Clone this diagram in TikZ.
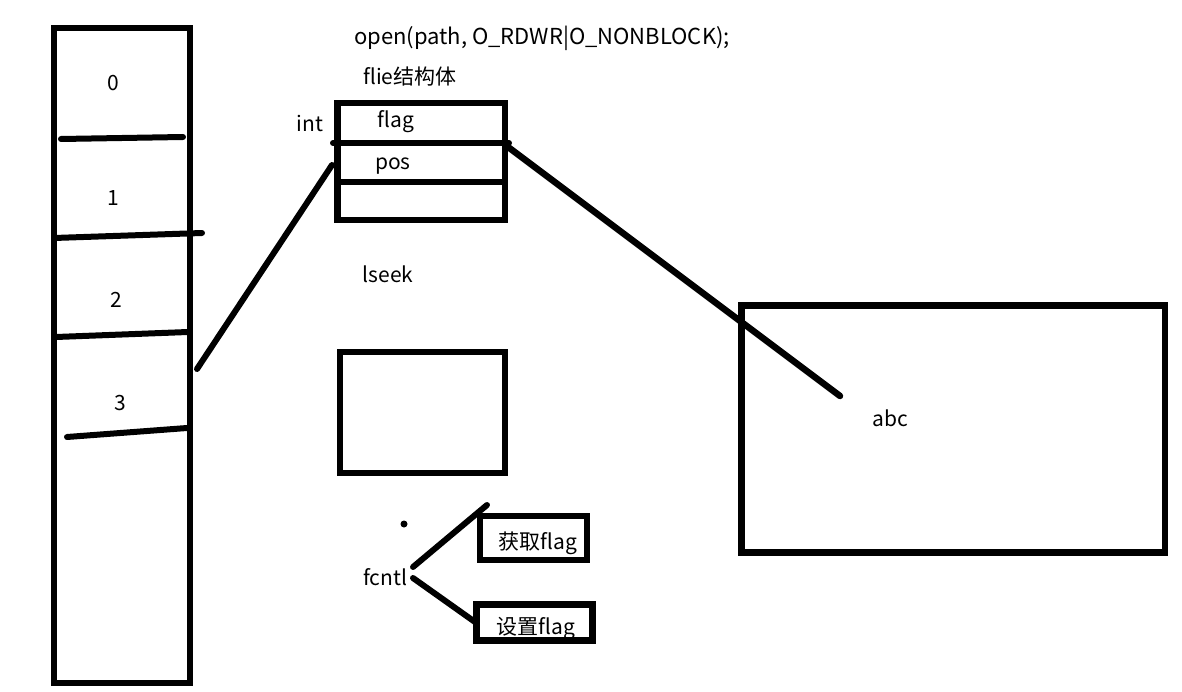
\documentclass[tikz,border=0pt]{standalone}
\usepackage{fontspec}
\setmainfont{Noto Sans CJK SC}
\usepackage{tikz}
\usetikzlibrary{positioning}
\tikzstyle{cell}=[rectangle, draw=black, line width=6.5pt, inner sep=0pt]
\tikzstyle{stroke}=[draw, line width=6pt, line cap=round]
\tikzstyle{lbl}=[inner sep=0pt, font=\fontsize{21}{25}\selectfont]

\begin{document}
\begin{tikzpicture}[x=1pt, y=-1pt]
\useasboundingbox (0,0) rectangle (1182,692);

% fd table
\node[cell, line width=6pt, minimum width=136.5pt, minimum height=655pt] (fdtab) at (121.75,355.5) {};
\draw[stroke] (61,139) -- (183,137);
\draw[stroke] (54,238) -- (202,233);
\draw[stroke] (56,337) -- (188,332);
\draw[stroke] (67,437) -- (187,428);
\foreach \i/\x/\y in {0/113/83, 1/113/198, 2/116/300, 3/120/403}
  \node[lbl] (fd\i) at (\x,\y) {\i};

% file struct
\node[lbl, font=\fontsize{22}{26}\selectfont] (opencall) at (542,38) {open(path, O\_RDWR|O\_NONBLOCK);};
\node[lbl] (structname) at (410,77) {flie结构体};
\node[cell, minimum width=167.5pt, minimum height=117pt] (filestruct) at (421.25,161.5) {};
\draw[stroke] (333,143) -- (509,143);
\draw[draw, line width=6.5pt] (338,182) -- (505,182);
\node[lbl] (inttype) at (310,124) {int};
\node[lbl] (flagfield) at (396,122) {flag};
\node[lbl] (posfield) at (393,166) {pos};

% lseek
\node[lbl] (lseek) at (388,274) {lseek};
\node[cell, minimum width=165pt, minimum height=121pt] (seekbox) at (422.5,412.5) {};

% file contents
\node[cell, minimum width=423.5pt, minimum height=247pt] (content) at (953.25,429) {};
\node[lbl] (abc) at (890,418) {abc};

% fcntl
\node[circle, fill=black, inner sep=0pt, minimum size=7pt] (dot) at (404,524) {};
\node[lbl] (fcntl) at (385,577) {fcntl};
\node[cell, line width=6pt, minimum width=107pt, minimum height=44pt] (getbox) at (533.5,538) {};
\node[lbl] (getflag) at (538,543) {获取flag};
\node[cell, line width=7pt, minimum width=116pt, minimum height=35.5pt] (setbox) at (534.5,622.25) {};
\node[lbl] (setflag) at (536,628) {设置flag};

% connectors
\coordinate (fdthree) at (197,369);
\coordinate (posin) at (332,165);
\coordinate (flagout) at (508,147);
\coordinate (abcin) at (840,396);
\coordinate (fcntlup) at (413,567);
\coordinate (getin) at (487,505);
\coordinate (fcntldown) at (413,578);
\coordinate (setin) at (475,622);
\draw[stroke] (fdthree) -- (posin);
\draw[stroke, line width=6.5pt] (flagout) -- (abcin);
\draw[stroke] (fcntlup) -- (getin);
\draw[stroke] (fcntldown) -- (setin);

\end{tikzpicture}
\end{document}
